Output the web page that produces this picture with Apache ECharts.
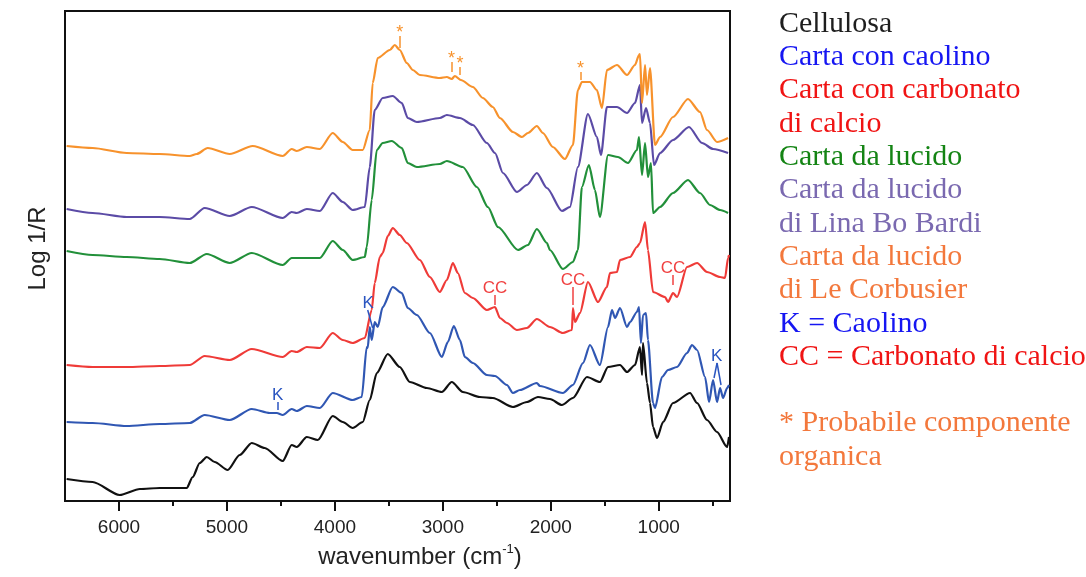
<!doctype html>
<html>
  <head>
    <meta charset="utf-8">
    <title>Spettri FTIR - carte da lucido</title>
    <script src="https://cdn.jsdelivr.net/npm/echarts@6/dist/echarts.min.js"></script>
    <style>
      html, body { margin: 0; padding: 0; background: #fff; }
      #main { width: 1086px; height: 577px; }
    </style>
  </head>
  <body>
    <div id="main"></div>
  </body>
  <script>
   // wavenumber (cm-1) and Log 1/R (arbitrary, offset)
   var wnCellulosa = [6485, 6244, 5994, 5806, 5623, 5373, 5317, 5252, 5187, 5113, 4993, 4882, 4770, 4650, 4483, 4400, 4353, 4260, 4158, 4020, 3927, 3835, 3742, 3677, 3612, 3510, 3399, 3306, 3148, 3009, 2917, 2815, 2657, 2537, 2351, 2221, 2119, 2008, 1897, 1795, 1665, 1545, 1470, 1359, 1294, 1220, 1174, 1155, 1146, 1109, 1081, 1053, 1016, 960, 868, 710, 645, 553, 460, 367, 349];
   var valCellulosa = [0.22, 0.19, 0.06, 0.12, 0.13, 0.13, 0.24, 0.38, 0.44, 0.39, 0.31, 0.46, 0.58, 0.53, 0.40, 0.56, 0.54, 0.64, 0.61, 0.85, 0.79, 0.73, 0.79, 1.01, 1.28, 1.47, 1.34, 1.19, 1.13, 1.09, 1.19, 1.09, 1.04, 1.03, 0.94, 0.99, 1.04, 1.02, 0.96, 1.03, 1.24, 1.19, 1.34, 1.36, 1.29, 1.36, 1.54, 1.26, 1.58, 1.18, 0.98, 0.74, 0.63, 0.79, 0.98, 1.08, 0.98, 0.81, 0.69, 0.54, 0.64];

   var wnCaolino = [6485, 6244, 5929, 5623, 5345, 5206, 4974, 4770, 4603, 4538, 4483, 4400, 4353, 4260, 4140, 4020, 3835, 3751, 3705, 3696, 3677, 3659, 3631, 3603, 3557, 3464, 3380, 3325, 3241, 3120, 3009, 2954, 2898, 2842, 2796, 2722, 2592, 2517, 2406, 2351, 2286, 2129, 2101, 1888, 1795, 1702, 1637, 1545, 1470, 1433, 1405, 1359, 1294, 1266, 1202, 1183, 1165, 1146, 1118, 1100, 1053, 1035, 970, 914, 831, 738, 692, 645, 571, 534, 497, 460, 432, 404, 367, 349];
   var valCaolino = [0.79, 0.78, 0.75, 0.77, 0.78, 0.86, 0.81, 0.92, 0.88, 0.88, 0.86, 0.92, 0.90, 0.95, 0.93, 1.08, 1.01, 1.04, 1.54, 1.53, 1.74, 1.61, 1.79, 1.74, 1.94, 2.14, 2.08, 1.93, 1.86, 1.68, 1.44, 1.59, 1.75, 1.61, 1.44, 1.38, 1.26, 1.25, 1.16, 1.08, 1.11, 1.18, 1.15, 1.08, 1.16, 1.38, 1.56, 1.36, 1.74, 1.91, 1.83, 1.93, 1.74, 1.79, 1.89, 1.94, 1.58, 1.86, 1.88, 1.61, 0.98, 0.93, 1.24, 1.31, 1.34, 1.48, 1.56, 1.51, 1.24, 0.99, 1.21, 0.99, 1.13, 1.03, 1.13, 1.16];

   var wnCarbonato = [6485, 6244, 5929, 5623, 5345, 5206, 4974, 4770, 4483, 4400, 4353, 4260, 4140, 4020, 3927, 3835, 3723, 3659, 3631, 3584, 3557, 3510, 3464, 3399, 3334, 3213, 3120, 3028, 2963, 2907, 2861, 2796, 2722, 2592, 2517, 2471, 2406, 2314, 2221, 2129, 2008, 1888, 1804, 1795, 1776, 1730, 1656, 1563, 1480, 1452, 1387, 1359, 1266, 1202, 1174, 1127, 1100, 1053, 942, 914, 868, 831, 738, 645, 553, 432, 386, 358, 349];
   var valCarbonato = [1.36, 1.34, 1.34, 1.35, 1.36, 1.45, 1.41, 1.52, 1.44, 1.50, 1.49, 1.54, 1.53, 1.68, 1.61, 1.58, 1.63, 1.91, 2.18, 2.44, 2.48, 2.65, 2.73, 2.66, 2.58, 2.41, 2.24, 2.09, 2.21, 2.38, 2.28, 2.08, 2.03, 1.91, 1.94, 1.83, 1.78, 1.71, 1.73, 1.82, 1.74, 1.68, 1.71, 1.93, 1.79, 1.88, 2.19, 1.99, 2.14, 2.28, 2.29, 2.41, 2.44, 2.54, 2.58, 2.79, 2.51, 2.09, 2.04, 1.99, 2.08, 2.04, 2.34, 2.38, 2.29, 2.24, 2.23, 2.43, 2.46];

   var wnLucido = [6485, 6244, 5929, 5623, 5345, 5187, 4974, 4770, 4483, 4400, 4260, 4140, 4020, 3927, 3835, 3723, 3705, 3659, 3612, 3557, 3473, 3380, 3325, 3241, 3028, 2963, 2815, 2685, 2583, 2489, 2304, 2212, 2129, 2036, 2008, 1888, 1795, 1749, 1712, 1647, 1591, 1545, 1470, 1378, 1285, 1202, 1183, 1155, 1127, 1100, 1072, 1053, 988, 868, 729, 618, 525, 432, 358];
   var valLucido = [2.50, 2.46, 2.44, 2.42, 2.38, 2.47, 2.38, 2.48, 2.36, 2.43, 2.43, 2.43, 2.60, 2.51, 2.41, 2.44, 2.54, 3.01, 3.51, 3.58, 3.60, 3.53, 3.38, 3.34, 3.37, 3.40, 3.34, 3.14, 2.94, 2.74, 2.51, 2.56, 2.72, 2.58, 2.51, 2.32, 2.39, 2.51, 3.14, 3.36, 3.11, 2.84, 3.46, 3.44, 3.38, 3.51, 3.64, 3.26, 3.58, 3.24, 3.38, 2.88, 2.94, 3.08, 3.21, 3.08, 2.96, 2.91, 2.88];

   var wnBoBardi = [6485, 6244, 5929, 5623, 5345, 5206, 4974, 4770, 4483, 4400, 4353, 4260, 4140, 4020, 3927, 3835, 3723, 3677, 3631, 3557, 3464, 3380, 3325, 3241, 3028, 2963, 2842, 2722, 2592, 2517, 2443, 2314, 2221, 2129, 2036, 1897, 1823, 1749, 1656, 1573, 1535, 1480, 1387, 1294, 1220, 1174, 1155, 1118, 1081, 1044, 988, 868, 720, 599, 497, 358];
   var valBoBardi = [2.92, 2.88, 2.84, 2.84, 2.82, 2.93, 2.85, 2.94, 2.83, 2.89, 2.88, 2.92, 2.90, 3.08, 2.99, 2.91, 2.94, 3.34, 3.91, 4.03, 4.05, 3.98, 3.83, 3.79, 3.83, 3.86, 3.83, 3.76, 3.58, 3.48, 3.28, 3.09, 3.16, 3.28, 3.13, 2.90, 2.94, 3.34, 3.87, 3.64, 3.46, 3.94, 3.94, 3.88, 3.98, 4.16, 3.78, 3.93, 3.78, 3.36, 3.48, 3.61, 3.74, 3.58, 3.52, 3.48];

   var wnCorbusier = [6485, 6244, 5929, 5623, 5345, 5280, 5178, 4974, 4761, 4483, 4400, 4353, 4260, 4140, 4020, 3927, 3835, 3742, 3677, 3650, 3603, 3491, 3445, 3399, 3334, 3278, 3213, 3028, 2963, 2917, 2889, 2833, 2722, 2629, 2537, 2471, 2351, 2267, 2212, 2129, 2073, 1981, 1869, 1795, 1749, 1712, 1637, 1573, 1526, 1480, 1387, 1294, 1220, 1183, 1174, 1155, 1127, 1109, 1081, 1035, 988, 868, 729, 618, 553, 460, 358];
   var valCorbusier = [3.55, 3.53, 3.48, 3.47, 3.45, 3.47, 3.53, 3.47, 3.55, 3.45, 3.52, 3.50, 3.54, 3.52, 3.68, 3.59, 3.51, 3.51, 3.71, 4.18, 4.43, 4.51, 4.56, 4.51, 4.38, 4.31, 4.26, 4.23, 4.24, 4.22, 4.25, 4.21, 4.14, 4.03, 3.94, 3.83, 3.69, 3.64, 3.68, 3.75, 3.68, 3.54, 3.42, 3.56, 4.11, 4.19, 4.19, 4.11, 3.93, 4.31, 4.36, 4.26, 4.36, 4.46, 4.47, 3.98, 4.36, 4.06, 4.33, 3.56, 3.64, 3.84, 4.02, 3.89, 3.71, 3.59, 3.63];

   // annotation marks: from (wn0, v0) to (wn1, v1), label at the second end
   var starWn0 = [3400, 2920, 2840, 1725], starV0 = [4.53, 4.29, 4.26, 4.21];
   var starWn1 = [3400, 2920, 2840, 1725], starV1 = [4.65, 4.39, 4.34, 4.29];
   var kWn0 = [4530, 3650, 488], kV0 = [0.91, 1.73, 1.23];
   var kWn1 = [4530, 3696, 460], kV1 = [0.99, 1.91, 1.38];
   var kLegWn0 = [423], kLegV0 = [1.16];
   var ccWn0 = [2517, 1795, 868], ccV0 = [1.96, 1.96, 2.16];
   var ccWn1 = [2517, 1795, 868], ccV1 = [2.06, 2.14, 2.26];

   var majorTicks = [1000, 2000, 3000, 4000, 5000, 6000];
   var minorTicks = [500, 1500, 2500, 3500, 4500, 5500];

   var legendLines = ['Cellulosa', 'Carta con caolino', 'Carta con carbonato', 'di calcio', 'Carta da lucido',
     'Carta da lucido', 'di Lina Bo Bardi', 'Carta da lucido', 'di Le Corbusier', 'K = Caolino',
     'CC = Carbonato di calcio', '', '* Probabile componente', 'organica'];

   // styles
   var legendColors = ['#1e1e1e', '#1616f2', '#f01414', '#f01414', '#148414', '#7a69b0', '#7a69b0',
     '#f3783c', '#f3783c', '#1616f2', '#f01414', '#000', '#f3783c', '#f3783c'];
   var cBlack = '#111111', cBlue = '#3057b3', cRed = '#ef3b38', cGreen = '#22903a', cPurple = '#5b4ba6', cOrange = '#f7922c';

   function zip(xs, ys) {
     var out = [];
     for (var i = 0; i < xs.length; i++) out.push([xs[i], ys[i]]);
     return out;
   }
   function segs(x0, y0, x1, y1, noLabel) {
     var out = [];
     for (var i = 0; i < x0.length; i++) {
       var end = {coord: [x1[i], y1[i]]};
       if (noLabel) end.label = {show: false};
       out.push([{coord: [x0[i], y0[i]]}, end]);
     }
     return out;
   }
   function marks(color, text, size, dist, data) {
     return {
       silent: true,
       symbol: ['none', 'none'],
       lineStyle: {color: color, width: 1.5, type: 'solid'},
       label: {show: true, position: 'end', formatter: text, color: color, fontSize: size,
               fontFamily: 'Liberation Sans, Arial', distance: dist},
       emphasis: {disabled: true},
       data: data
     };
   }
   function spectrum(name, color, xs, ys, mark) {
     var s = {
       name: name,
       type: 'line',
       data: zip(xs, ys),
       showSymbol: false,
       symbol: 'none',
       smooth: 0.25,
       smoothMonotone: 'x',
       lineStyle: {color: color, width: 2.2},
       itemStyle: {color: color},
       emphasis: {disabled: true}
     };
     if (mark) s.markLine = mark;
     return s;
   }

   var chart = echarts.init(document.getElementById('main'));
   var axisFont = 'Liberation Sans, Arial, sans-serif';

   var legendGraphics = [];
   for (var i = 0; i < legendLines.length; i++) {
     legendGraphics.push({
       type: 'text',
       x: 779,
       y: 24 + i * 33.3,
       silent: true,
       style: {
         text: legendLines[i],
         fill: legendColors[i],
         font: '30px "Liberation Serif", serif',
         verticalAlign: 'middle',
         align: 'left'
       }
     });
   }

   var option = {
     animation: false,
     backgroundColor: '#fff',
     grid: {left: 65, right: 356, top: 11, bottom: 76, show: true, borderColor: '#111', borderWidth: 2},
     xAxis: [
       {
         type: 'value', inverse: true, min: 340, max: 6500, position: 'bottom',
         name: '{a|wavenumber (cm}{s|-1}{a|)}',
         nameLocation: 'middle', nameGap: 42,
         nameTextStyle: {
           padding: [0, 0, 0, 45],
           rich: {
             a: {fontSize: 24, fontFamily: axisFont, color: '#222', lineHeight: 28},
             s: {fontSize: 13, fontFamily: axisFont, color: '#222', verticalAlign: 'top', lineHeight: 14}
           }
         },
         axisLine: {lineStyle: {color: '#111', width: 2}},
         axisTick: {customValues: majorTicks, length: 10, lineStyle: {color: '#111', width: 2}},
         axisLabel: {customValues: majorTicks, fontSize: 19, fontFamily: axisFont, color: '#222', margin: 17,
                     formatter: function (v) { return String(v); }},
         splitLine: {show: false}
       },
       {
         type: 'value', inverse: true, min: 340, max: 6500, position: 'bottom', offset: 0,
         axisLine: {show: false},
         axisTick: {customValues: minorTicks, length: 5, lineStyle: {color: '#111', width: 2}},
         axisLabel: {show: false},
         splitLine: {show: false}
       }
     ],
     yAxis: {
       type: 'value', min: 0, max: 4.9,
       name: 'Log 1/R', nameLocation: 'middle', nameGap: 15,
       nameTextStyle: {fontSize: 24, fontFamily: axisFont, color: '#222', padding: [0, 0, 0, 15]},
       axisLine: {show: true, lineStyle: {color: '#111', width: 2}},
       axisTick: {show: false},
       axisLabel: {show: false},
       splitLine: {show: false}
     },
     graphic: legendGraphics,
     series: [
       spectrum('Cellulosa', cBlack, wnCellulosa, valCellulosa),
       spectrum('Carta con caolino', cBlue, wnCaolino, valCaolino,
         marks('#2a55c0', 'K', 17, -2, segs(kWn0, kV0, kWn1, kV1).concat(segs(kLegWn0, kLegV0, [kWn1[2]], [kV1[2]], true)))),
       spectrum('Carta con carbonato di calcio', cRed, wnCarbonato, valCarbonato,
         marks('#f04040', 'CC', 17, -2, segs(ccWn0, ccV0, ccWn1, ccV1))),
       spectrum('Carta da lucido', cGreen, wnLucido, valLucido),
       spectrum('Carta da lucido di Lina Bo Bardi', cPurple, wnBoBardi, valBoBardi),
       spectrum('Carta da lucido di Le Corbusier', cOrange, wnCorbusier, valCorbusier,
         marks(cOrange, '*', 18, -6, segs(starWn0, starV0, starWn1, starV1)))
     ]
   };
   chart.setOption(option);
  </script>
</html>
